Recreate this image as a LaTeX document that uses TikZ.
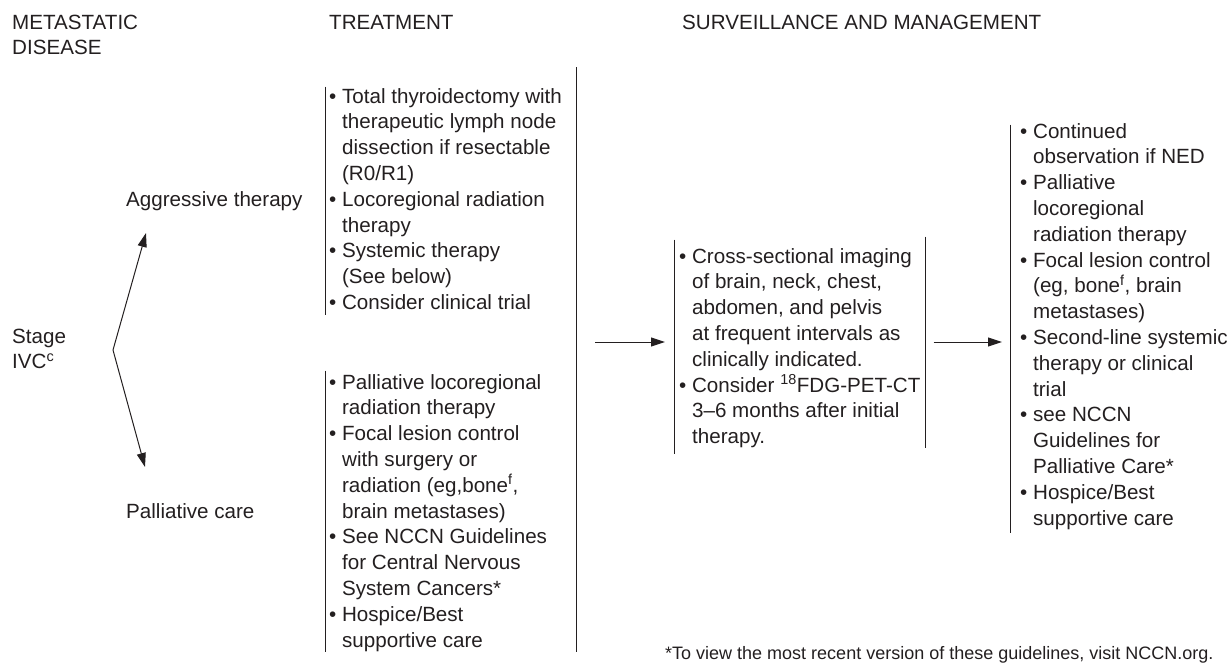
\documentclass[tikz,border=0pt]{standalone}
\usepackage{fontspec}
\setmainfont{Liberation Sans}
\usetikzlibrary{arrows.meta}
\definecolor{ink}{RGB}{35,31,32}
\newcommand{\bl}{\textbullet\ }
\newcommand{\ind}{\phantom{\textbullet\ }}
\newcommand{\txtlines}[1]{\begin{tabular}[t]{@{}l@{}}#1\end{tabular}}

\begin{document}
\begin{tikzpicture}[x=1pt,y=-1pt,
  txt/.style={anchor=base west,inner sep=0pt,text=ink,font=\fontsize{20.6}{25.8}\selectfont},
  blist/.style={txt,inner xsep=4pt},
  sep/.style={draw=ink,line width=1pt},
  arr/.style={sep,-{Triangle[length=14pt,width=9pt]}}]
\useasboundingbox (0,0) rectangle (1229,664);
% column heads
\node[txt] (hdis) at (12,29) {\txtlines{METASTATIC\\DISEASE}};
\node[txt] (htrt) at (329,29) {TREATMENT};
\node[txt] (hsur) at (682,29) {SURVEILLANCE AND MANAGEMENT};
% stage and branches
\node[txt] (stage) at (12,343) {\txtlines{Stage\\IVC\textsuperscript{c}}};
\node[txt] (aggr) at (126,206) {Aggressive therapy};
\node[txt] (pall) at (126,518) {Palliative care};
\coordinate (fork) at (113,350);
\coordinate (up) at (146,233);
\coordinate (dn) at (145,467);
\draw[arr] (fork) -- (up);
\draw[arr] (fork) -- (dn);
% treatment
\node[blist] (aggrtx) at (325,103) {\txtlines{\bl Total thyroidectomy with\\
  \ind therapeutic lymph node\\ \ind dissection if resectable\\ \ind (R0/R1)\\
  \bl Locoregional radiation\\ \ind therapy\\ \bl Systemic therapy\\
  \ind (See below)\\ \bl Consider clinical trial}};
\node[blist] (palltx) at (325,389) {\txtlines{\bl Palliative locoregional\\
  \ind radiation therapy\\ \bl Focal lesion control\\ \ind with surgery or\\
  \ind radiation (eg,bone\textsuperscript{f},\\ \ind brain metastases)\\
  \bl See NCCN Guidelines\\ \ind for Central Nervous\\ \ind System Cancers*\\
  \bl Hospice/Best\\ \ind supportive care}};
\draw[sep] ([yshift=-2]aggrtx.north west) -- ([yshift=2]aggrtx.south west);
\draw[sep] (palltx.north west) -- ([yshift=3]palltx.south west);
\coordinate (ctop) at (576,67);
\coordinate (cbot) at (576,652);
\draw[sep] (ctop) -- (cbot);
% surveillance
\node[blist,inner xsep=5pt] (survtx) at (674,263) {\txtlines{\bl Cross-sectional imaging\\
  \ind of brain, neck, chest,\\ \ind abdomen, and pelvis\\
  \ind at frequent intervals as\\ \ind clinically indicated.\\
  \bl Consider \textsuperscript{18}FDG-PET-CT\\ \ind 3–6 months after initial\\
  \ind therapy.}};
\draw[sep] ([yshift=5]survtx.north west) -- ([yshift=-2]survtx.south west);
\draw[sep] ([yshift=8]survtx.north east) -- ([yshift=4]survtx.south east);
% management
\node[blist,inner xsep=10pt] (mgmttx) at (1010,138) {\txtlines{\bl Continued\\
  \ind observation if NED\\ \bl Palliative\\ \ind locoregional\\
  \ind radiation therapy\\ \bl Focal lesion control\\
  \ind (eg, bone\textsuperscript{f}, brain\\ \ind metastases)\\
  \bl Second-line systemic\\ \ind therapy or clinical\\ \ind trial\\
  \bl see NCCN\\ \ind Guidelines for\\ \ind Palliative Care*\\
  \bl Hospice/Best\\ \ind supportive care}};
\draw[sep] ([yshift=-5]mgmttx.north west) -- (mgmttx.south west);
% flow arrows
\coordinate (a1) at (595,342);
\draw[arr,shorten >=9pt] (a1) -- (a1 -| survtx.west);
\draw[arr,shorten <=8pt,shorten >=8pt] (a1 -| survtx.east) -- (a1 -| mgmttx.west);
\node[txt,font=\fontsize{18}{22}\selectfont] (note) at (665,659)
  {*To view the most recent version of these guidelines, visit NCCN.org.};
\end{tikzpicture}
\end{document}
